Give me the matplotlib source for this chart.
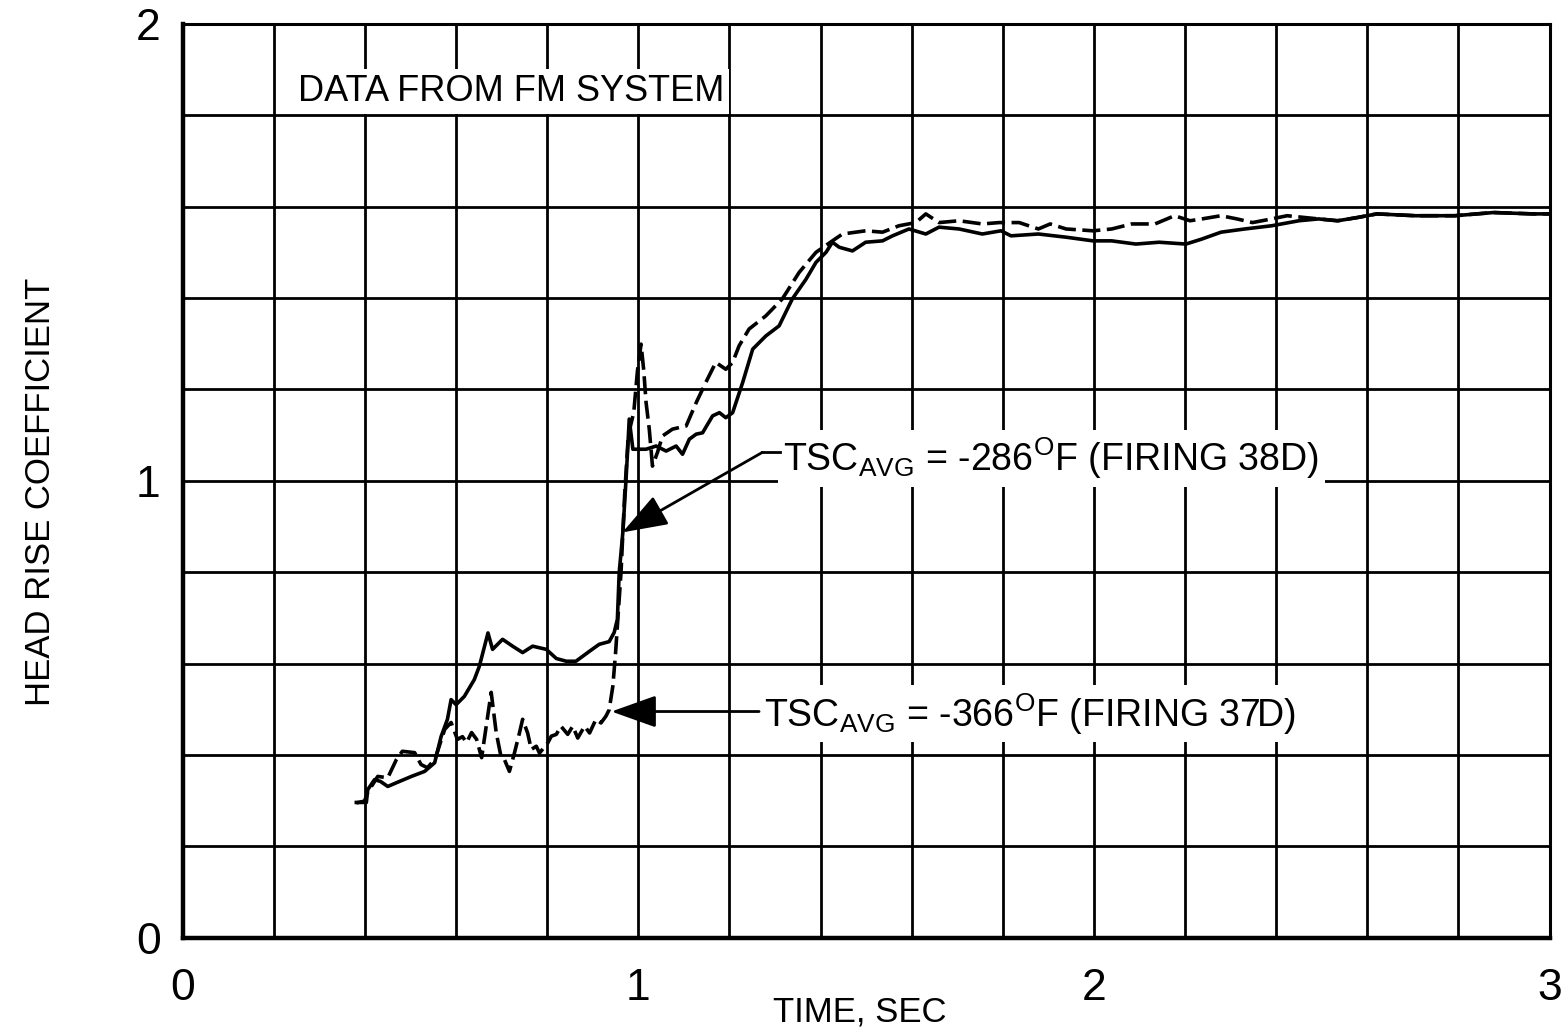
import matplotlib
matplotlib.use("Agg")
import matplotlib.pyplot as plt
from matplotlib.ticker import MultipleLocator

plt.rcParams['font.family'] = ['Liberation Sans', 'DejaVu Sans']
plt.rcParams['mathtext.fontset'] = 'custom'
plt.rcParams['mathtext.rm'] = 'Liberation Sans'

# firing 38D (solid), TSC avg = -286 F
solid_t = [0.381, 0.403, 0.406, 0.421, 0.434, 0.450, 0.471, 0.502, 0.531, 0.553,
           0.567, 0.581, 0.589, 0.600, 0.618, 0.640, 0.651, 0.670, 0.680, 0.702,
           0.724, 0.746, 0.768, 0.798, 0.820, 0.842, 0.863, 0.893, 0.914, 0.936,
           0.947, 0.954, 0.958, 0.966, 0.973, 0.977, 0.980, 0.988, 1.017, 1.039,
           1.061, 1.083, 1.097, 1.112, 1.127, 1.141, 1.163, 1.178, 1.192, 1.207,
           1.229, 1.251, 1.280, 1.309, 1.338, 1.368, 1.390, 1.412, 1.426, 1.441,
           1.470, 1.499, 1.536, 1.558, 1.594, 1.631, 1.660, 1.704, 1.755, 1.796,
           1.818, 1.878, 1.939, 1.998, 2.039, 2.092, 2.143, 2.202, 2.237, 2.279,
           2.331, 2.390, 2.450, 2.493, 2.535, 2.578, 2.621, 2.706, 2.792, 2.877,
           2.963, 3.0]
solid_y = [0.296, 0.296, 0.324, 0.346, 0.342, 0.331, 0.340, 0.353, 0.364, 0.383,
           0.440, 0.478, 0.521, 0.510, 0.528, 0.565, 0.594, 0.667, 0.631, 0.653,
           0.638, 0.624, 0.638, 0.631, 0.611, 0.605, 0.605, 0.627, 0.642, 0.648,
           0.668, 0.697, 0.799, 0.887, 1.003, 1.076, 1.135, 1.069, 1.069, 1.076,
           1.065, 1.076, 1.058, 1.091, 1.102, 1.105, 1.142, 1.149, 1.138, 1.149,
           1.215, 1.288, 1.317, 1.339, 1.398, 1.441, 1.478, 1.500, 1.522, 1.511,
           1.503, 1.522, 1.525, 1.536, 1.551, 1.540, 1.555, 1.551, 1.540, 1.547,
           1.536, 1.540, 1.533, 1.525, 1.525, 1.518, 1.522, 1.518, 1.529, 1.544,
           1.551, 1.558, 1.569, 1.573, 1.569, 1.576, 1.584, 1.580, 1.580, 1.587,
           1.584, 1.584]

# firing 37D (dashed), TSC avg = -366 F
dash_t = [0.381, 0.399, 0.406, 0.428, 0.450, 0.469, 0.482, 0.509, 0.523, 0.537,
          0.553, 0.559, 0.575, 0.589, 0.603, 0.614, 0.623, 0.634, 0.645, 0.656,
          0.677, 0.688, 0.699, 0.706, 0.717, 0.728, 0.739, 0.746, 0.757, 0.765,
          0.776, 0.783, 0.801, 0.809, 0.820, 0.830, 0.845, 0.856, 0.867, 0.882,
          0.893, 0.907, 0.918, 0.929, 0.936, 0.944, 0.950, 0.955, 0.962, 0.970,
          0.978, 0.990, 0.998, 1.006, 1.012, 1.017, 1.024, 1.031, 1.042, 1.053,
          1.075, 1.105, 1.127, 1.148, 1.170, 1.192, 1.207, 1.221, 1.243, 1.280,
          1.316, 1.353, 1.390, 1.426, 1.448, 1.499, 1.536, 1.572, 1.609, 1.631,
          1.660, 1.704, 1.755, 1.792, 1.836, 1.878, 1.904, 1.939, 1.998, 2.039,
          2.083, 2.134, 2.177, 2.211, 2.237, 2.279, 2.314, 2.348, 2.390, 2.424,
          2.493, 2.535, 2.578, 2.621, 2.706, 2.792, 2.877, 2.963, 3.0]
dash_y = [0.295, 0.299, 0.318, 0.353, 0.350, 0.390, 0.408, 0.405, 0.379, 0.372,
          0.390, 0.407, 0.456, 0.471, 0.434, 0.440, 0.427, 0.449, 0.434, 0.394,
          0.537, 0.449, 0.394, 0.390, 0.364, 0.404, 0.448, 0.478, 0.448, 0.412,
          0.419, 0.404, 0.426, 0.441, 0.445, 0.463, 0.445, 0.463, 0.437, 0.463,
          0.448, 0.478, 0.470, 0.485, 0.499, 0.550, 0.623, 0.697, 0.800, 0.970,
          1.100, 1.150, 1.240, 1.299, 1.240, 1.171, 1.113, 1.032, 1.062, 1.098,
          1.113, 1.120, 1.171, 1.215, 1.259, 1.244, 1.259, 1.295, 1.332, 1.361,
          1.398, 1.456, 1.500, 1.525, 1.540, 1.547, 1.544, 1.558, 1.565, 1.584,
          1.565, 1.569, 1.562, 1.565, 1.565, 1.551, 1.562, 1.551, 1.547, 1.551,
          1.562, 1.562, 1.580, 1.569, 1.573, 1.580, 1.573, 1.565, 1.573, 1.580,
          1.573, 1.569, 1.576, 1.584, 1.580, 1.580, 1.587, 1.584, 1.584]

x_ticks = [0, 1, 2, 3]
y_ticks = [0, 1, 2]

fig = plt.figure(figsize=(15.62, 10.35), dpi=100)
ax = fig.add_axes([0.117, 0.094, 0.875, 0.883])
ax.set_xlim(0, 3)
ax.set_ylim(0, 2)

ax.xaxis.set_minor_locator(MultipleLocator(0.2))
ax.yaxis.set_minor_locator(MultipleLocator(0.2))
ax.set_xticks(x_ticks)
ax.set_yticks(y_ticks)
ax.set_xticklabels([str(v) for v in x_ticks])
ax.set_yticklabels([str(v) for v in y_ticks])
ax.tick_params(which='both', length=0)
ax.tick_params(axis='x', labelsize=32, pad=22)
ax.tick_params(axis='y', labelsize=32, pad=16)
ax.grid(which='both', color='black', linewidth=2.0)
ax.set_axisbelow(True)

for side in ['left', 'bottom']:
    ax.spines[side].set_linewidth(3.2)
for side in ['top', 'right']:
    ax.spines[side].set_linewidth(2.2)

ax.plot(solid_t, solid_y, color='black', linewidth=2.6, zorder=4)
ax.plot(dash_t, dash_y, color='black', linewidth=2.6, dashes=(5, 1.8), zorder=3)

fig.text(0.5506, 0.022, 'TIME, SEC', fontsize=25, ha='center', va='center')
fig.text(0.026, 0.525, 'HEAD RISE COEFFICIENT', fontsize=25, rotation=90,
         ha='center', va='center')

box = dict(facecolor='white', edgecolor='none', pad=4)
ax.text(0.252, 1.831, 'DATA FROM FM SYSTEM', fontsize=26, ha='left', va='baseline',
        bbox=box, zorder=2)

head = '-|>,head_length=0.7,head_width=0.25'
ax.text(1.318, 1.021, r'TSC$_{\rm AVG}$ = -286$^{\rm O}$F (FIRING 38D)', fontsize=27,
        ha='left', va='baseline', bbox=box, zorder=2)
ax.plot([1.272, 1.312], [1.062, 1.062], color='black', linewidth=2.0, zorder=5)
ax.annotate('', xy=(0.965, 0.887), xytext=(1.272, 1.062),
            arrowprops=dict(arrowstyle=head, color='black', lw=2.0,
                            mutation_scale=40, shrinkA=0, shrinkB=0), zorder=5)

ax.text(1.276, 0.462, r'TSC$_{\rm AVG}$ = -366$^{\rm O}$F (FIRING 37D)', fontsize=27,
        ha='left', va='baseline', bbox=box, zorder=2)
ax.annotate('', xy=(0.941, 0.495), xytext=(1.265, 0.495),
            arrowprops=dict(arrowstyle=head, color='black', lw=2.0,
                            mutation_scale=40, shrinkA=0, shrinkB=0), zorder=5)

fig.savefig('out.png', dpi=100)
